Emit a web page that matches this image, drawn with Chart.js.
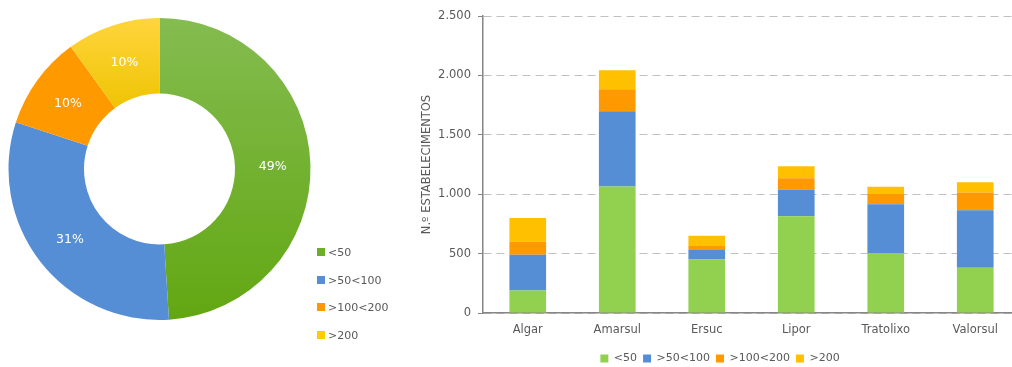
<!DOCTYPE html>
<html>
<head>
<meta charset="utf-8">
<script src="https://cdn.jsdelivr.net/npm/chart.js@4/dist/chart.umd.min.js"></script>
<style>
  body { margin: 0; background: #fff; overflow: hidden; width: 1012px; height: 367px; position: relative; font-family: "DejaVu Sans", sans-serif; }
  #pieBox { position: absolute; left: 0; top: 0; width: 400px; height: 367px; }
  #barBox { position: absolute; left: 400px; top: 0; width: 640px; height: 367px; }
  #pieLegend { position: absolute; left: 317px; top: 246px; font-size: 11px; color: #595959; }
  #pieLegend div { height: 27.7px; line-height: 14px; white-space: nowrap; }
  #pieLegend span { display: inline-block; width: 8px; height: 8px; margin-right: 3px; vertical-align: 0px; }
</style>
</head>
<body>
<div id="pieBox"><canvas id="pie"></canvas></div>
<div id="pieLegend"></div>
<div id="barBox"><canvas id="bar"></canvas></div>
<script>
// data
const classes = ['<50', '>50<100', '>100<200', '>200'];
const pieShare = [49, 31, 10, 10]; // percent
const systems = ['Algar', 'Amarsul', 'Ersuc', 'Lipor', 'Tratolixo', 'Valorsul'];
const lt50 = [190, 1065, 450, 815, 505, 380];
const from50to100 = [300, 633, 80, 225, 410, 485];
const from100to200 = [110, 185, 35, 95, 87, 150];
const gt200 = [200, 160, 85, 100, 60, 85];
const yTicks = [0, 500, 1000, 1500, 2000, 2500];

const barColors = ['#92d050', '#558ed5', '#ff9900', '#ffc000'];
const pieColors = ['#6cae2a', '#558ed5', '#ff9900', '#ffcc00'];
const textGray = '#595959';
const font = 'DejaVu Sans';

Chart.defaults.font.family = font;
Chart.defaults.color = textGray;

// thousands with a dot, like the original
const fmt = (v) => String(v).replace(/\B(?=(\d{3})+(?!\d))/g, '.');

// gradient fills for the donut, lighter on top
function pieFill(ctx) {
  const area = ctx.chart.chartArea;
  if (!area) return pieColors[ctx.dataIndex];
  const c = ctx.chart.ctx;
  if (ctx.dataIndex === 0) {
    const g = c.createLinearGradient(0, area.top, 0, area.bottom);
    g.addColorStop(0, '#84bc50');
    g.addColorStop(1, '#62a712');
    return g;
  }
  if (ctx.dataIndex === 3) {
    const g2 = c.createLinearGradient(0, area.top, 0, area.top + 95);
    g2.addColorStop(0, '#ffd53d');
    g2.addColorStop(1, '#eec300');
    return g2;
  }
  return pieColors[ctx.dataIndex];
}

// white % labels in the middle of each ring segment
const pieLabels = {
  id: 'pieLabels',
  afterDatasetsDraw(chart) {
    const c = chart.ctx;
    const meta = chart.getDatasetMeta(0);
    c.save();
    c.fillStyle = '#fff';
    c.font = '12.5px ' + font;
    c.textAlign = 'center';
    c.textBaseline = 'middle';
    meta.data.forEach((arc, i) => {
      const p = arc.tooltipPosition();
      c.fillText(pieShare[i] + '%', p.x, p.y + 1.5);
    });
    c.restore();
  }
};

new Chart(document.getElementById('pie'), {
  type: 'doughnut',
  data: {
    labels: classes,
    datasets: [{
      data: pieShare,
      backgroundColor: pieFill,
      borderWidth: 0
    }]
  },
  options: {
    responsive: true,
    maintainAspectRatio: false,
    animation: false,
    cutout: '50%',
    layout: { padding: { top: 18, bottom: 47, left: 8, right: 89 } },
    plugins: {
      legend: { display: false },
      tooltip: { enabled: false }
    }
  },
  plugins: [pieLabels]
});

// legend for the donut sits under its right side
const pieLegend = document.getElementById('pieLegend');
classes.forEach((name, i) => {
  const row = document.createElement('div');
  const box = document.createElement('span');
  box.style.background = pieColors[i];
  row.appendChild(box);
  row.appendChild(document.createTextNode(name));
  pieLegend.appendChild(row);
});

new Chart(document.getElementById('bar'), {
  type: 'bar',
  data: {
    labels: systems,
    datasets: [
      { label: classes[0], data: lt50, backgroundColor: barColors[0] },
      { label: classes[1], data: from50to100, backgroundColor: barColors[1] },
      { label: classes[2], data: from100to200, backgroundColor: barColors[2] },
      { label: classes[3], data: gt200, backgroundColor: barColors[3] }
    ]
  },
  options: {
    responsive: true,
    maintainAspectRatio: false,
    animation: false,
    layout: { padding: { top: 16, right: 20, left: 20, bottom: -7 } },
    datasets: { bar: { categoryPercentage: 1, barPercentage: 0.41 } },
    scales: {
      x: {
        stacked: true,
        grid: { display: false, drawTicks: false },
        border: { color: '#868686', width: 1.5 },
        ticks: { padding: 10, color: textGray, font: { size: 11.5 } },
        afterFit: (s) => { s.height = 34; }
      },
      y: {
        stacked: true,
        min: 0,
        max: 2500,
        afterBuildTicks: (s) => { s.ticks = yTicks.map(v => ({ value: v })); },
        afterFit: (s) => { s.width = 63; },
        grid: { color: '#c0c0c0', tickColor: '#868686', tickLength: 5 },
        border: { color: '#868686', width: 1.5, dash: [8, 5] },
        ticks: { padding: 7, color: textGray, font: { size: 11.5 }, callback: (v) => fmt(v) },
        title: {
          display: true,
          text: 'N.º ESTABELECIMENTOS',
          color: textGray,
          font: { size: 11.5 },
          padding: { top: 0, bottom: 0 }
        }
      }
    },
    plugins: {
      legend: {
        position: 'bottom',
        labels: {
          boxWidth: 8,
          boxHeight: 8,
          padding: 6,
          color: textGray,
          font: { size: 11 }
        }
      },
      tooltip: { enabled: false }
    }
  }
});
</script>
</body>
</html>
